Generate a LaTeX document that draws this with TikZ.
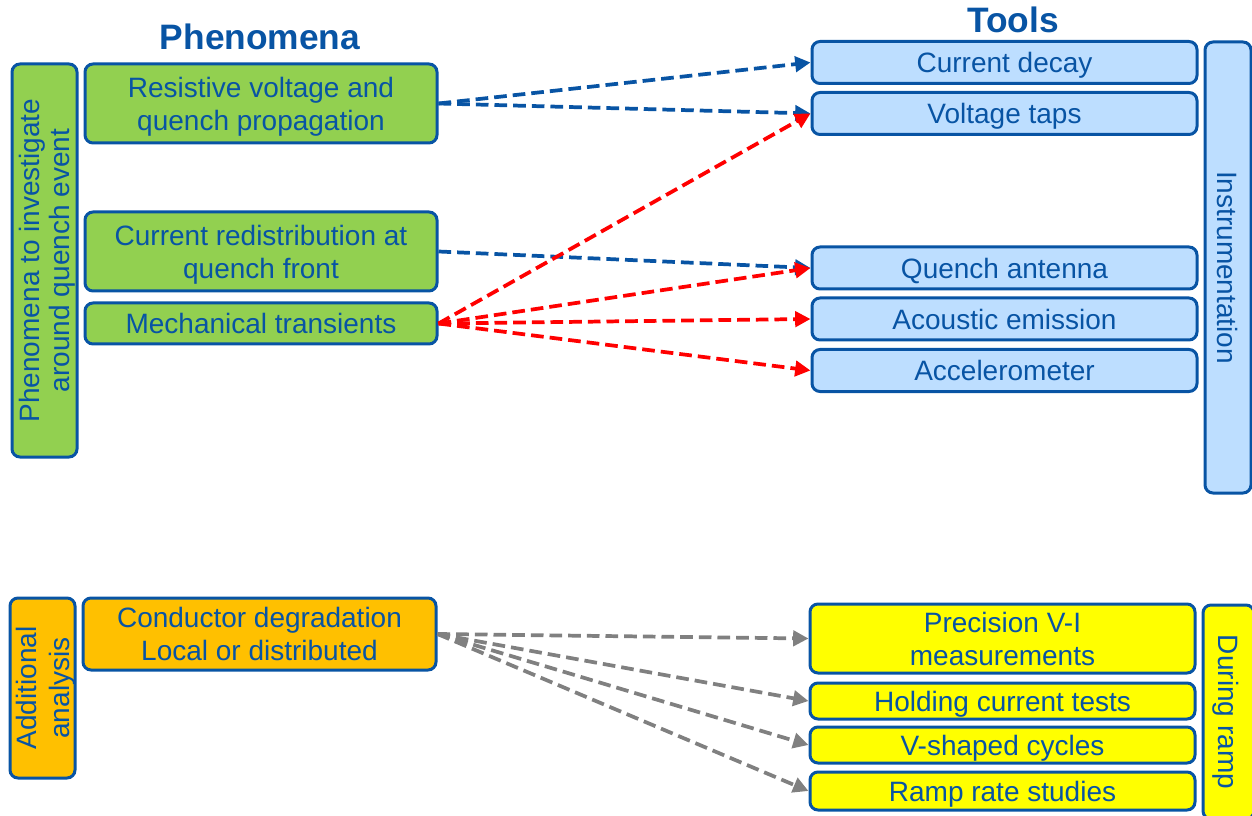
\documentclass[tikz,border=0pt]{standalone}
\usepackage{fontspec}
\setmainfont{Liberation Sans}
\usetikzlibrary{arrows.meta}

\definecolor{txtblue}{RGB}{8,84,164}
\definecolor{phengreen}{RGB}{146,208,80}
\definecolor{toolblue}{RGB}{189,222,255}
\definecolor{anaorange}{RGB}{255,192,0}
\definecolor{rampyellow}{RGB}{255,255,0}
\definecolor{arrgray}{RGB}{128,128,128}

\tikzset{every picture/.style={line width=0.75pt}}
\tikzset{
  box/.style={draw=txtblue, line width=2.25pt, rounded corners=6pt, text=txtblue, inner sep=0pt, text depth=0pt, align=center, font=\fontsize{21}{24.75}\selectfont},
  greenbox/.style={box, fill=phengreen, minimum width=264pt},
  bluebox/.style={box, fill=toolblue, minimum width=288.75pt, minimum height=31.5pt},
  orangebox/.style={box, fill=anaorange},
  yellowbox/.style={box, fill=rampyellow, minimum width=288.75pt},
  title/.style={text=txtblue, inner sep=0pt, font=\bfseries\fontsize{26.5}{30}\selectfont},
  flow/.style={line width=2.8pt, dash pattern={on 9.5pt off 4.5pt}, -{Triangle[length=11.5pt,width=11.5pt]}},
  bluearrow/.style={flow, color=txtblue},
  redarrow/.style={flow, color=red},
  grayarrow/.style={flow, color=arrgray},
}

\begin{document}
\begin{tikzpicture}[x=0.75pt,y=0.75pt,yscale=-1,xscale=1]
\useasboundingbox (0,0) rectangle (1252,816);

% Titles
\draw (260,37) node [title] (phentitle) {Phenomena};
\draw (1013,20) node [title] (tooltitle) {Tools};

% Phenomena column
\draw (44.5,260.5) node [box, fill=phengreen, rotate=90, minimum width=294.75pt, minimum height=48.75pt, font=\fontsize{21}{22}\selectfont] (phenside) {Phenomena to investigate\\around quench event};
\draw (261,103.5) node [greenbox, minimum height=59.25pt] (resistive) {Resistive voltage and\\quench propagation};
\draw (261,251.5) node [greenbox, minimum height=59.25pt] (redistrib) {Current redistribution at\\quench front};
\draw (261,323.5) node [greenbox, minimum height=30.75pt] (mechanical) {Mechanical transients};

% Instrumentation column
\draw (1004.5,62.5) node [bluebox] (decay) {Current decay};
\draw (1004.5,113.5) node [bluebox] (taps) {Voltage taps};
\draw (1004.5,268) node [bluebox] (antenna) {Quench antenna};
\draw (1004.5,319) node [bluebox] (acoustic) {Acoustic emission};
\draw (1004.5,370.5) node [bluebox] (accel) {Accelerometer};
\draw (1228,267.5) node [box, fill=toolblue, rotate=-90, minimum width=338.25pt, minimum height=34.5pt] (instrum) {Instrumentation};

% Additional analysis
\draw (42.5,688) node [orangebox, rotate=90, minimum width=135pt, minimum height=48.75pt] (addside) {Additional\\analysis};
\draw (259.5,634) node [orangebox, minimum width=264.75pt, minimum height=54pt] (degrad) {Conductor degradation\\Local or distributed};

% During ramp
\draw (1002.5,638.5) node [yellowbox, minimum height=51.75pt] (precision) {Precision V-I\\measurements};
\draw (1002.5,701) node [yellowbox, minimum height=27pt] (holding) {Holding current tests};
\draw (1002.5,745) node [yellowbox, minimum height=27pt] (vshaped) {V-shaped cycles};
\draw (1002.5,791) node [yellowbox, minimum height=28.5pt] (ramprate) {Ramp rate studies};
\draw (1228.5,712) node [box, fill=rampyellow, rotate=-90, minimum width=160.5pt, minimum height=38.25pt] (duringramp) {During ramp};

% Arrows
\draw [bluearrow] (resistive.east) -- (decay.west);
\draw [bluearrow] (resistive.east) -- (taps.west);
\draw [bluearrow] (redistrib.east) -- (antenna.west);
\draw [redarrow] (mechanical.east) -- (taps.west);
\draw [redarrow] (mechanical.east) -- (antenna.west);
\draw [redarrow] (mechanical.east) -- (acoustic.west);
\draw [redarrow] (mechanical.east) -- (accel.west);
\draw [grayarrow] (degrad.east) -- (precision.west);
\draw [grayarrow] (degrad.east) -- (holding.west);
\draw [grayarrow] (degrad.east) -- (vshaped.west);
\draw [grayarrow] (degrad.east) -- (ramprate.west);

\end{tikzpicture}
\end{document}
